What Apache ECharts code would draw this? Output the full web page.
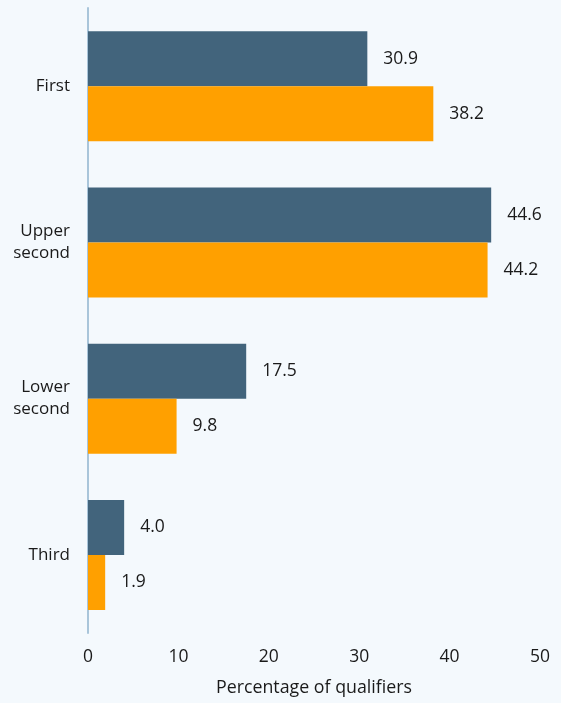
<!DOCTYPE html>
<html><head><meta charset="utf-8">
<script src="https://cdn.jsdelivr.net/npm/echarts@6/dist/echarts.min.js"></script>
<style>html,body{margin:0;padding:0;background:#f4f9fd}#c{width:561px;height:703px}</style>
</head><body><div id="c"></div>
<script>
const categories = ['First', 'Upper\nsecond', 'Lower\nsecond', 'Third'];
const seriesA = [30.9, 44.6, 17.5, 4.0];
const seriesB = [38.2, 44.2, 9.8, 1.9];
const xTicks = [0, 10, 20, 30, 40, 50];
const font = 'Open Sans';
const chart = echarts.init(document.getElementById('c'));
const lbl = {show: true, position: 'right', distance: 16, color: '#1a1a1a', fontSize: 17.5, fontFamily: font, formatter: p => p.value.toFixed(1)};
chart.setOption({
  backgroundColor: '#f4f9fd',
  animation: false,
  grid: {left: 88, right: 21, top: 8, bottom: 70},
  xAxis: {type: 'value', min: xTicks[0], max: xTicks[xTicks.length-1], interval: 10,
    axisLine: {show: false}, axisTick: {show: false}, splitLine: {show: false},
    axisLabel: {color: '#1a1a1a', fontSize: 17.5, fontFamily: font, margin: 15},
    name: 'Percentage of qualifiers', nameLocation: 'middle', nameGap: 46,
    nameTextStyle: {color: '#1a1a1a', fontSize: 17.8, fontFamily: font}},
  yAxis: {type: 'category', data: categories, inverse: true,
    axisLine: {show: true, lineStyle: {color: '#a9c5da', width: 2}}, axisTick: {show: false},
    axisLabel: {color: '#1a1a1a', fontSize: 17, fontFamily: font, margin: 18, lineHeight: 22}},
  series: [
    {type: 'bar', data: seriesA, barWidth: 55, barGap: '0%', itemStyle: {color: '#42647c'}, label: lbl},
    {type: 'bar', data: seriesB, barWidth: 55, barGap: '0%', itemStyle: {color: '#ffa000'}, label: lbl}
  ]
});
</script></body></html>
